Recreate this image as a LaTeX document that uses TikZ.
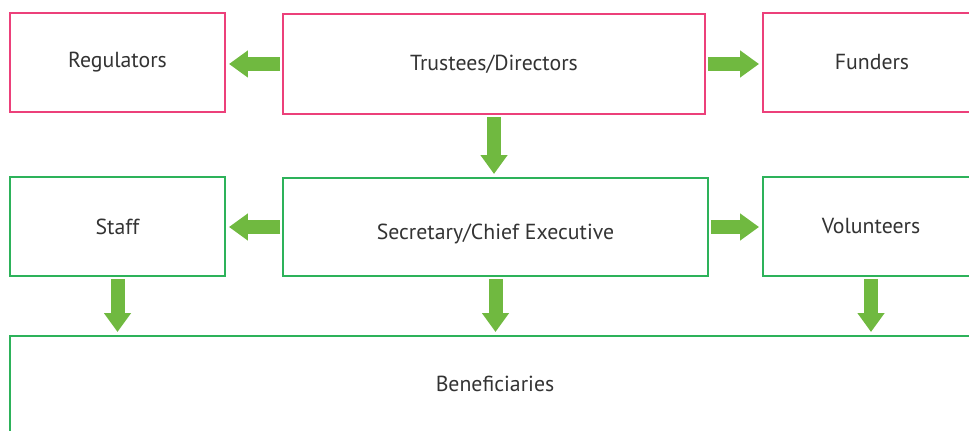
\documentclass[tikz,border=0pt]{standalone}
\usepackage{fontspec}
\setmainfont{PT Sans}
\usetikzlibrary{arrows.meta}
\definecolor{boxpink}{RGB}{236,64,122}
\definecolor{boxgreen}{RGB}{45,178,90}
\definecolor{arrowgreen}{RGB}{112,185,64}
\definecolor{textgray}{RGB}{51,51,51}

\begin{document}
\begin{tikzpicture}[x=0.02cm, y=-0.02cm,
	box/.style={draw, line width=0.04cm, inner sep=0pt, outer sep=0pt, text=textgray, font=\fontsize{12.4}{15}\selectfont},
	pinkbox/.style={box, draw=boxpink},
	greenbox/.style={box, draw=boxgreen},
	fat/.style={arrowgreen, line width=0.28cm, -{Triangle[length=0.38cm, width=0.52cm]}, shorten <=0.06cm, shorten >=0.08cm}]
\useasboundingbox (0,0) rectangle (969,431);
\clip (0,0) rectangle (969,431);
% top row
\node[pinkbox, minimum width=4.3cm, minimum height=1.98cm] (regulators) at (117.5,62.5) {Regulators};
\node[pinkbox, minimum width=8.44cm, minimum height=2cm] (trustees) at (494,64) {Trustees/Directors};
\node[pinkbox, minimum width=4.36cm, minimum height=1.98cm] (funders) at (872,62.5) {Funders};
% middle row
\node[greenbox, minimum width=4.3cm, minimum height=1.98cm] (staff) at (117.5,226.5) {Staff};
\node[greenbox, minimum width=8.5cm, minimum height=1.96cm, text height=0.6cm, text depth=0.08cm] (secretary) at (495.5,227) {Secretary/Chief Executive};
\node[greenbox, minimum width=4.32cm, minimum height=1.98cm] (volunteers) at (871,226.5) {Volunteers};
% bottom
\node[greenbox, minimum width=19.4cm, minimum height=1.92cm] (beneficiaries) at (495,384) {Beneficiaries};
% arrows
\draw[fat] (trustees.west) -- (trustees.west -| regulators.east);
\draw[fat] (trustees.east) -- (trustees.east -| funders.west);
\draw[fat] (trustees.south) -- (trustees.south |- secretary.north);
\draw[fat] (secretary.west) -- (secretary.west -| staff.east);
\draw[fat] (secretary.east) -- (secretary.east -| volunteers.west);
\foreach \n in {staff,secretary,volunteers}{
	\draw[fat] (\n.south) -- (\n.south |- beneficiaries.north);
}
\end{tikzpicture}
\end{document}
